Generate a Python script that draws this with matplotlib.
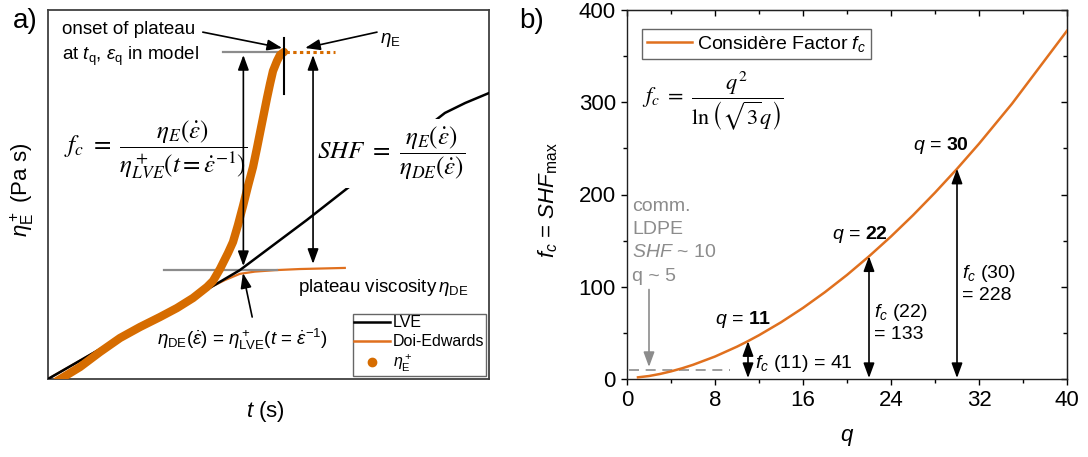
import matplotlib
matplotlib.use('Agg')
import matplotlib.pyplot as plt
from matplotlib.lines import Line2D
from matplotlib.ticker import MultipleLocator

plt.rcParams['font.family'] = ['Liberation Sans', 'DejaVu Sans']
plt.rcParams['mathtext.fontset'] = 'custom'
plt.rcParams['mathtext.rm'] = 'Liberation Sans'
plt.rcParams['mathtext.it'] = 'Liberation Sans:italic'
plt.rcParams['mathtext.bf'] = 'Liberation Sans:bold'
plt.rcParams['mathtext.sf'] = 'Liberation Sans'

# ---------------- data: panel a (schematic, arbitrary units 0-100) ----------------
lve_t = [0.0, 11.8, 29.3, 43.5, 58.7, 68.0, 79.8, 90.0, 94.6, 100.0]
lve_eta = [0.0, 8.1, 19.5, 29.5, 43.1, 51.8, 62.6, 72.1, 74.8, 77.5]

de_t = [0.0, 11.8, 29.3, 37.4, 40.1, 43.5, 46.9, 51.5, 57.1, 67.3]
de_eta = [0.0, 8.1, 19.5, 25.2, 26.8, 28.5, 29.1, 29.5, 29.8, 30.1]

exp_t = [2.04, 3.17, 7.26, 11.79, 16.33, 20.86, 25.40, 29.25, 32.88, 36.05, 37.41, 39.00,
         40.82, 41.95, 43.08, 44.22, 45.35, 46.49, 47.39, 48.07, 48.98, 49.66, 50.34,
         51.02, 51.93, 52.61, 53.51]
exp_eta = [-0.54, 0.27, 3.25, 7.32, 11.11, 14.09, 16.80, 19.24, 21.95, 24.93, 26.56, 29.81,
           34.15, 37.13, 41.73, 46.88, 52.30, 57.45, 62.60, 66.67, 72.09, 76.15, 79.95,
           83.47, 86.18, 87.80, 88.62]

eta_E_plateau = 88.6
eta_DE_plateau = 29.6
t_q = 53.5
t_rate_inv = 44.3

# ---------------- data: panel b ----------------
q_vals = [1, 2, 3, 4, 5, 6, 8, 10, 11, 12, 14, 16, 18, 20, 22, 24, 26, 28, 30, 32, 35, 40]
fc_vals = [1.82, 3.22, 5.46, 8.27, 11.58, 15.38, 24.35, 35.07, 41.06, 47.46, 61.47, 77.06,
           94.19, 112.8, 132.96, 154.5, 177.5, 202.0, 227.8, 255.0, 298.4, 377.5]
marked_q = [11, 22, 30]
marked_fc = [41, 133, 228]
ldpe_shf = 10
ldpe_q = 5
ldpe_lines = ['comm.', 'LDPE', r'$SHF$ ~ %d' % ldpe_shf, 'q ~ %d' % ldpe_q]

orange = '#D66C00'
orange_thin = '#E0701E'
gray = '#8C8C8C'

fig = plt.figure(figsize=(10.88, 4.57), dpi=100)
axa = fig.add_axes([48/1088, 78/457, 441/1088, 369/457])
axb = fig.add_axes([627/1088, 78/457, 440/1088, 369/457])

# ================= panel a =================
axa.set_xlim(0, 100)
axa.set_ylim(0, 100)
axa.set_xticks([])
axa.set_yticks([])
for s in axa.spines.values():
    s.set_color('#404040')
    s.set_linewidth(1.3)

axa.plot(de_t, de_eta, color=orange_thin, lw=1.6, zorder=2)
axa.plot([26.3, 51.9], [eta_DE_plateau, eta_DE_plateau], color=gray, lw=1.6, zorder=2.5)
axa.plot(lve_t, lve_eta, color='black', lw=1.8, zorder=2.6)
axa.plot(exp_t, exp_eta, color=orange, lw=6, solid_capstyle='round',
         solid_joinstyle='round', zorder=3)
axa.plot([39.7, 53.3], [eta_E_plateau, eta_E_plateau], color=gray, lw=1.6, zorder=2.5)
axa.plot([53.9, 65.1], [eta_E_plateau, eta_E_plateau], color=orange, lw=2.2,
         linestyle=(0, (1.1, 1.1)), zorder=2.5)
axa.plot([t_q, t_q], [77.2, 92.4], color='black', lw=1.5, zorder=4)

astyle = '<|-|>,head_length=0.6,head_width=0.22'
sstyle = '-|>,head_length=0.6,head_width=0.22'
def arr(ax, xy, xyt, style, color='black'):
    ax.annotate('', xy=xy, xytext=xyt,
                arrowprops=dict(arrowstyle=style, color=color, lw=1.2,
                                mutation_scale=15, shrinkA=0, shrinkB=0),
                zorder=6)

arr(axa, (t_rate_inv, 87.8), (t_rate_inv, 30.6), astyle)
arr(axa, (60.1, 87.8), (60.1, 31.2), astyle)
arr(axa, (53.1, 89.7), (35.1, 94.0), sstyle)
arr(axa, (58.3, 89.7), (74.6, 94.0), sstyle)
arr(axa, (44.2, 28.7), (46.3, 16.8), sstyle)

axa.text(3.2, 94.6, 'onset of plateau', fontsize=13.5, va='center', ha='left')
axa.text(3.2, 87.5, r'at $t_\mathrm{q}$, $\varepsilon_\mathrm{q}$ in model', fontsize=13.5,
         va='center', ha='left')
axa.text(75.3, 91.9, r'$\eta_\mathrm{E}$', fontsize=13.5, va='center', ha='left')
axa.text(24.5, 62.1, r'$f_c\ =\ \dfrac{\eta_E(\dot{\varepsilon})}{\eta^+_{LVE}(t=\dot{\varepsilon}^{-1})}$',
         fontsize=18, va='center', ha='center', math_fontfamily='stix', zorder=4)
axa.text(77.8, 61.2, r'$SHF\ =\ \dfrac{\eta_E(\dot{\varepsilon})}{\eta_{DE}(\dot{\varepsilon})}$',
         fontsize=18, va='center', ha='center', math_fontfamily='stix', zorder=4,
         bbox=dict(facecolor='white', edgecolor='none', pad=4))
axa.text(56.7, 24.9, r'plateau viscosity$\,\eta_\mathrm{DE}$', fontsize=13.5, va='center', ha='left')
axa.text(24.7, 10.6, r'$\eta_\mathrm{DE}(\dot{\varepsilon})$ = $\eta^+_\mathrm{LVE}$($t$ = $\dot{\varepsilon}^{-1}$)',
         fontsize=13.5, va='center', ha='left')

handles = [Line2D([], [], color='black', lw=1.8),
           Line2D([], [], color=orange_thin, lw=1.8),
           Line2D([], [], color=orange, lw=0, marker='o', markersize=6)]
lga = axa.legend(handles, ['LVE', 'Doi-Edwards', r'$\eta^+_\mathrm{E}$'], loc='lower right',
                 fontsize=11.5, frameon=True, fancybox=False, edgecolor='#404040',
                 borderaxespad=0.2, borderpad=0.1, labelspacing=0.25, handlelength=2.2,
                 handletextpad=0.2)
lga.get_frame().set_linewidth(1.0)

fig.text(22/1088, (457-190)/457, r'$\eta^+_\mathrm{E}$ (Pa s)', fontsize=16, rotation=90,
         ha='center', va='center')
fig.text(265/1088, (457-412)/457, r'$t$ (s)', fontsize=16, ha='center', va='center')
fig.text(25/1088, (457-21)/457, 'a)', fontsize=20, ha='center', va='center')

# ================= panel b =================
axb.set_xlim(0, 40)
axb.set_ylim(0, 400)
axb.plot(q_vals, fc_vals, color=orange_thin, lw=1.8, label=r'Considère Factor $f_c$', zorder=3)
axb.xaxis.set_major_locator(MultipleLocator(8))
axb.xaxis.set_minor_locator(MultipleLocator(4))
axb.yaxis.set_major_locator(MultipleLocator(100))
axb.yaxis.set_minor_locator(MultipleLocator(50))
axb.tick_params(which='both', direction='out', labelsize=16, width=1.0)
axb.tick_params(which='major', length=4.5)
axb.tick_params(which='minor', length=3)
for s in axb.spines.values():
    s.set_linewidth(1.0)
    s.set_color('#202020')

secx = axb.secondary_xaxis('top')
secx.xaxis.set_major_locator(MultipleLocator(8))
secx.xaxis.set_minor_locator(MultipleLocator(4))
secx.tick_params(which='both', direction='in', labeltop=False, width=1.0)
secx.tick_params(which='major', length=4.5)
secx.tick_params(which='minor', length=3)
secy = axb.secondary_yaxis('right')
secy.yaxis.set_major_locator(MultipleLocator(100))
secy.yaxis.set_minor_locator(MultipleLocator(50))
secy.tick_params(which='both', direction='in', labelright=False, width=1.0)
secy.tick_params(which='major', length=4.5)
secy.tick_params(which='minor', length=3)

lgb = axb.legend(loc='upper left', bbox_to_anchor=(15/440, 1-19/369), borderaxespad=0,
                 fontsize=14, frameon=True, fancybox=False, edgecolor='#404040',
                 borderpad=0.25, handlelength=2.3, handletextpad=0.3)
lgb.get_frame().set_linewidth(1.0)

axb.text(1.4, 301, r'$f_c\ =\ \dfrac{q^2}{\ln\left(\sqrt{3}q\right)}$', fontsize=16,
         va='center', ha='left', math_fontfamily='stix')

for line, fy in zip(ldpe_lines, [187, 162, 137, 111]):
    axb.text(0.45, fy, line, fontsize=14, color=gray, va='center', ha='left')
axb.annotate('', xy=(2.0, 13), xytext=(2.0, 97),
             arrowprops=dict(arrowstyle=sstyle, color=gray, lw=1.2, mutation_scale=15,
                             shrinkA=0, shrinkB=0))
axb.plot([0.2, 9.4], [ldpe_shf, ldpe_shf], color=gray, lw=1.2, linestyle=(0, (6, 4)), zorder=2)

label_pos = [(8.0, 64), (18.6, 157), (26.0, 253)]
val_pos = [(11.6, 17), (22.5, 61), (30.5, 103.5)]
val_text = [r'$f_c$ (11) = 41', '$f_c$ (22)\n= 133', '$f_c$ (30)\n= 228']
for q, fc, (lx, ly), (vx, vy), vt in zip(marked_q, marked_fc, label_pos, val_pos, val_text):
    axb.text(lx, ly, r'$q$ = $\mathbf{%d}$' % q, fontsize=14, va='center', ha='left')
    arr(axb, (q, fc), (q, 1), astyle)
    axb.text(vx, vy, vt, fontsize=14, va='center', ha='left', linespacing=1.25)

fig.text(548/1088, (457-200)/457, r'$f_c$ = $SHF_\mathrm{max}$', fontsize=16, rotation=90,
         ha='center', va='center')
fig.text(847/1088, (457-438)/457, r'$q$', fontsize=16, ha='center', va='center')
fig.text(532/1088, (457-21)/457, 'b)', fontsize=20, ha='center', va='center')

fig.savefig('out.png', dpi=100)
